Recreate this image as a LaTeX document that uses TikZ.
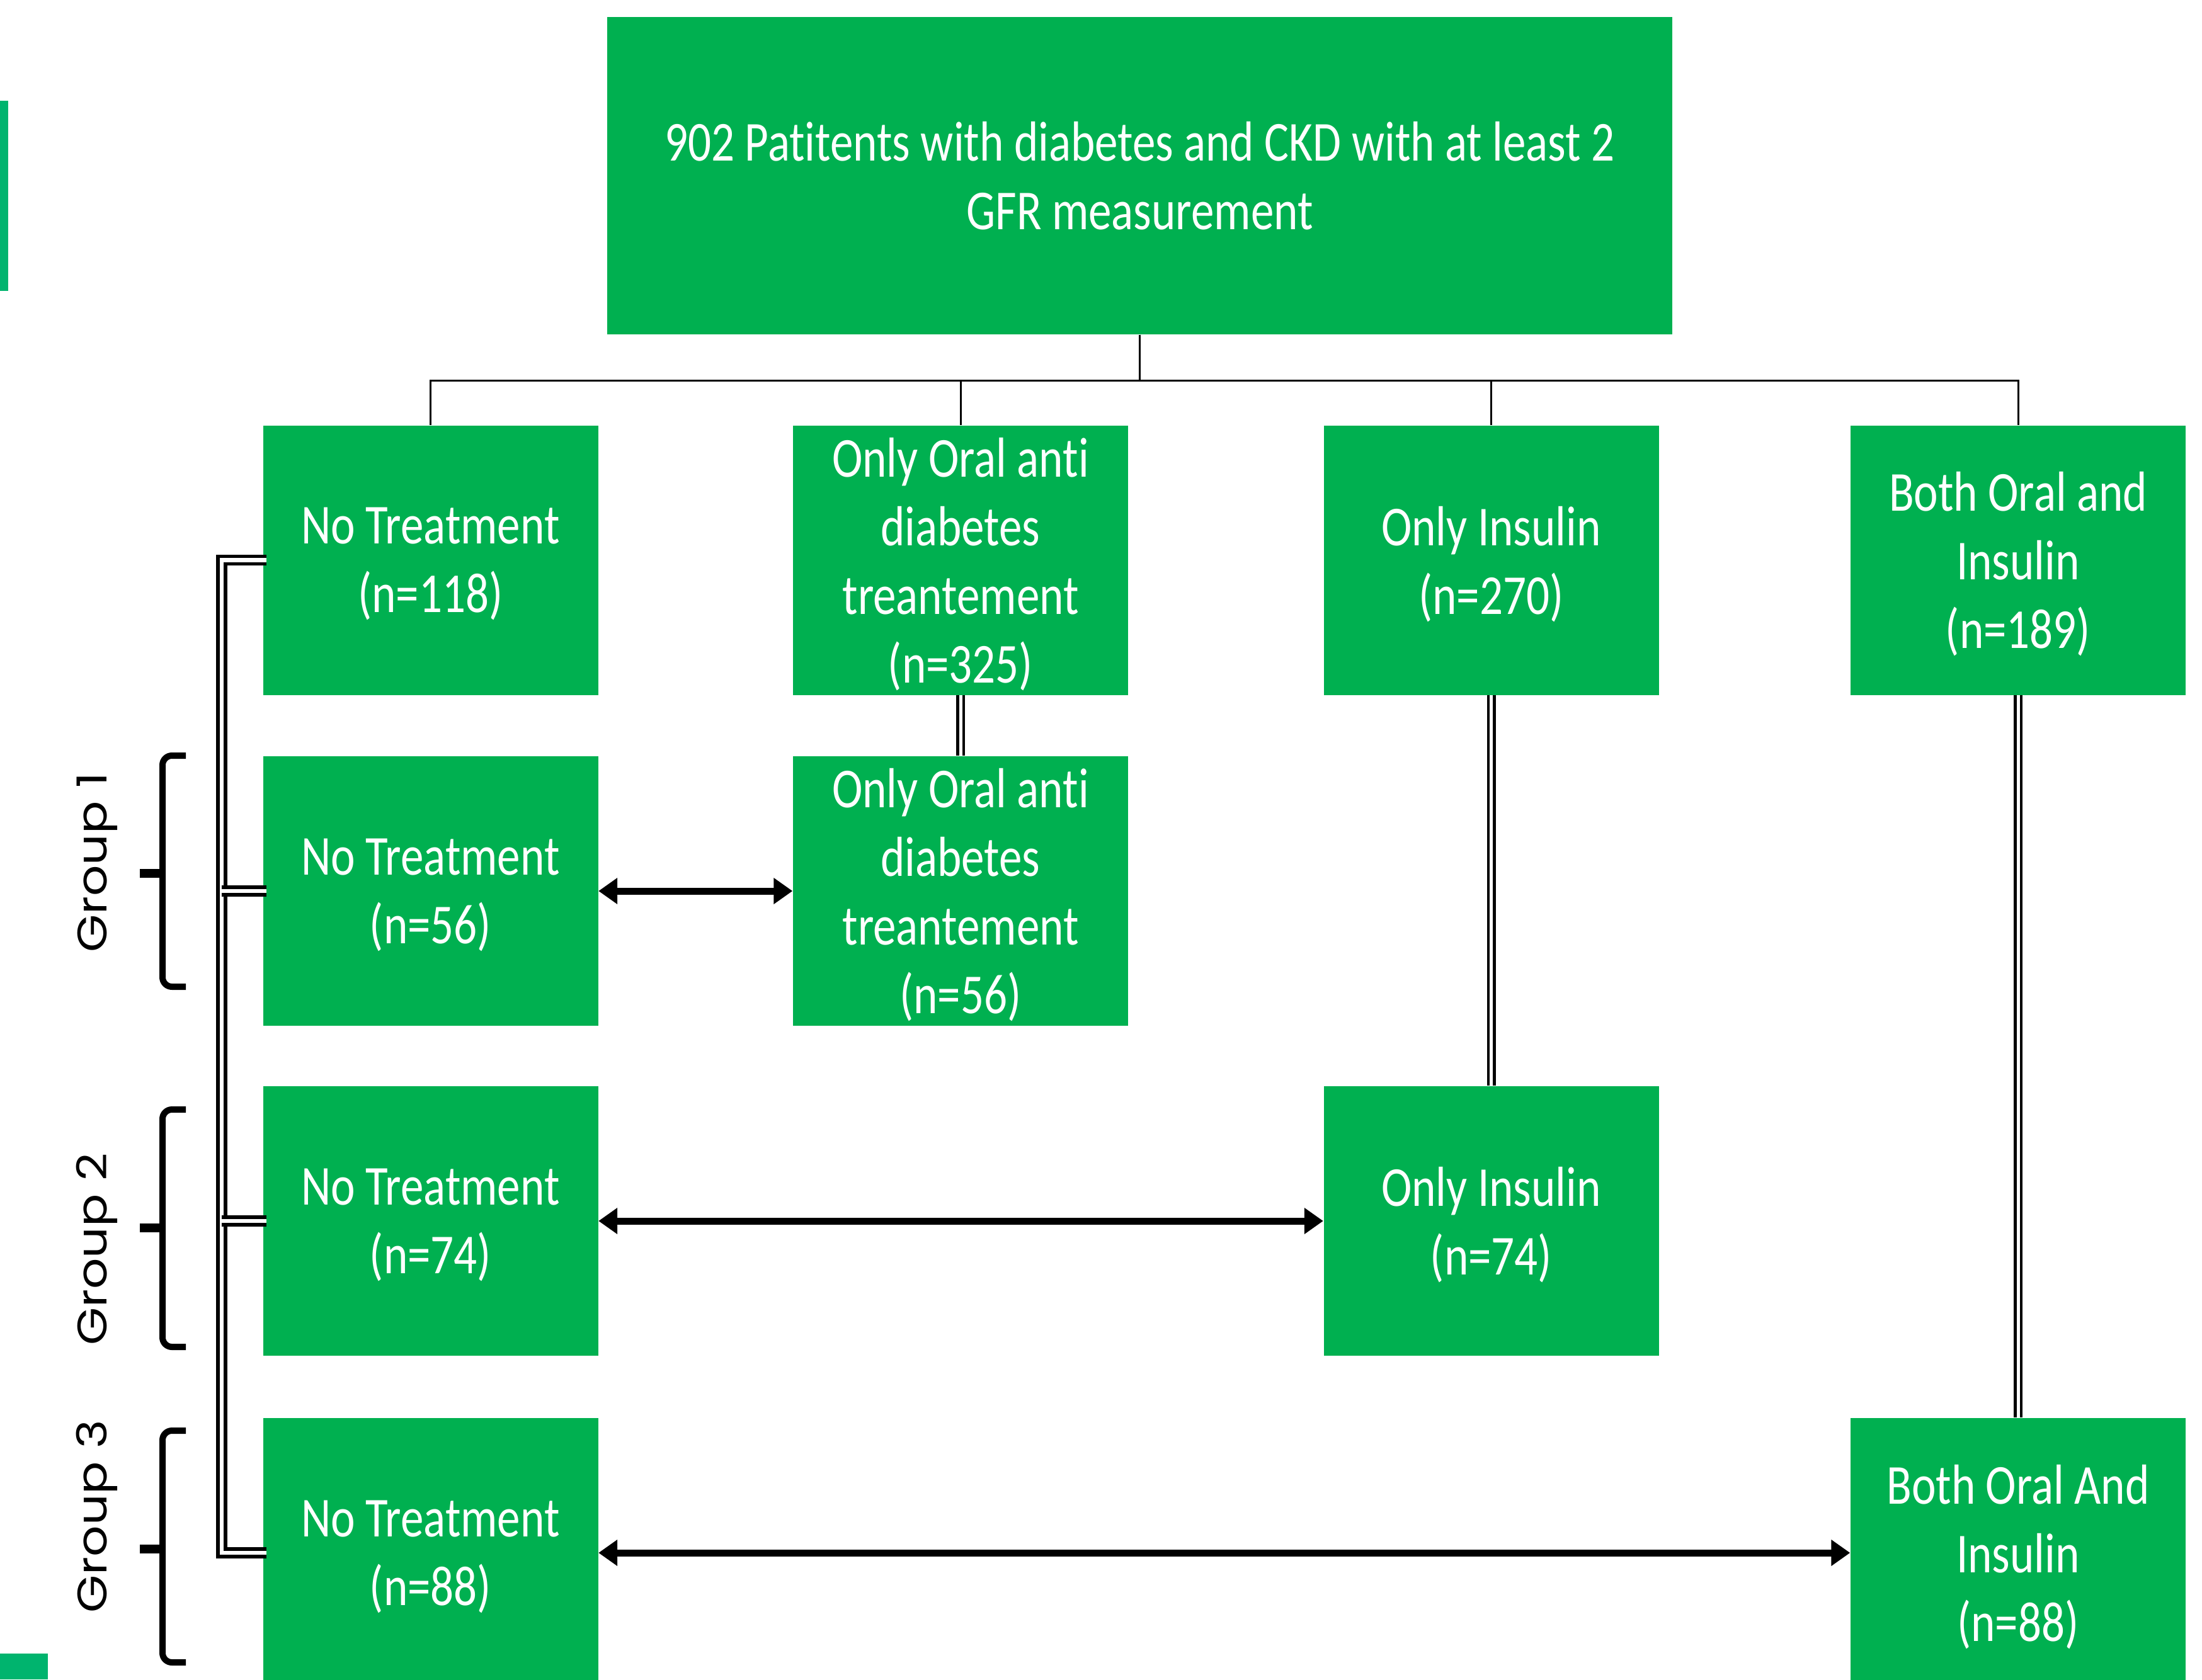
\documentclass[tikz,border=0pt]{standalone}
\usepackage{fontspec}
\setmainfont{Carlito}[FakeStretch=0.815, Ligatures={NoCommon}]
\newfontfamily\grpfont{Poppins}
\usetikzlibrary{arrows.meta}
\definecolor{boxgreen}{HTML}{00B050}
\definecolor{bargreen}{HTML}{00B46E}
\tikzset{
  box/.style={rectangle, fill=boxgreen, draw=none, text=white, align=center,
    inner sep=0pt, minimum width=5.32cm, minimum height=4.28cm, text depth=0pt,
    font=\fontsize{25.5}{31}\selectfont},
  tree/.style={draw=black, line width=0.03cm},
  dbl/.style={draw=black, line width=0.055cm, double=white, double distance=0.065cm, line join=miter},
  dblthin/.style={draw=black, line width=0.045cm, double=white, double distance=0.05cm},
  biarrow/.style={draw=black, line width=0.11cm,
    {Triangle[length=0.3cm,width=0.4cm]}-{Triangle[length=0.3cm,width=0.4cm]}},
  grp/.style={rotate=90, font=\grpfont\fontsize{22}{26}\selectfont, text=black, inner sep=0pt},
  bracestyle/.style={draw=black, line width=0.1cm, rounded corners=0.15cm},
}
\newcommand\grpbrace[3]{%
  \draw[bracestyle] (2.95,#1) -- (2.58,#1) -- (2.58,#3) -- (2.95,#3);
  \draw[draw=black, line width=0.14cm] (2.22,#2) -- (2.58,#2);
}
\begin{document}
\begin{tikzpicture}
\path[use as bounding box] (0,0) rectangle (34.96,-26.67);
\clip (0,0) rectangle (34.96,-26.67);

% side bars
\fill[bargreen] (0,-1.60) rectangle (0.13,-4.62);
\fill[bargreen] (0,-26.26) rectangle (0.76,-26.67);

% boxes
\node[box, minimum width=16.91cm, minimum height=5.04cm] (top) at (18.095,-2.79)
  {902 Patitents with diabetes and CKD with at least 2\\GFR measurement};

\node[box] (a1) at (6.835,-8.895) {No Treatment\\(n=118)};
\node[box] (a2) at (15.25,-8.895) {Only Oral anti\\diabetes\\treantement\\(n=325)};
\node[box] (a3) at (23.675,-8.895) {Only Insulin\\(n=270)};
\node[box] (a4) at (32.04,-8.895) {Both Oral and\\Insulin\\(n=189)};

\node[box] (b1) at (6.835,-14.15) {No Treatment\\(n=56)};
\node[box] (b2) at (15.25,-14.15) {Only Oral anti\\diabetes\\treantement\\(n=56)};

\node[box] (c1) at (6.835,-19.39) {No Treatment\\(n=74)};
\node[box] (c3) at (23.675,-19.39) {Only Insulin\\(n=74)};

\node[box] (d1) at (6.835,-24.66) {No Treatment\\(n=88)};
\node[box] (d4) at (32.04,-24.66) {Both Oral And\\Insulin\\(n=88)};

% tree connectors
\foreach \c in {a1,a2,a3,a4}
  \draw[tree] (top.south) -- ++(0,-0.73) -| (\c.north);

% left double connector
\coordinate (lx) at (3.52,0);
\draw[dbl] ([xshift=0.06cm]a1.west) -- (a1.west -| lx) -- (d1.west -| lx) -- ([xshift=0.06cm]d1.west);
\draw[dbl] (b1.west -| lx) -- ([xshift=0.06cm]b1.west);
\draw[dbl] (c1.west -| lx) -- ([xshift=0.06cm]c1.west);

% column double connectors
\draw[dblthin] (a2.south) -- (b2.north);
\draw[dblthin] (a3.south) -- (c3.north);
\draw[dblthin] (a4.south) -- (d4.north);

% arrows
\draw[biarrow] (b1.east) -- (b2.west);
\draw[biarrow] (c1.east) -- (c3.west);
\draw[biarrow] (d1.east) -- (d4.west);

% groups
\grpbrace{-12.00}{-13.87}{-15.67}
\grpbrace{-17.62}{-19.50}{-21.39}
\grpbrace{-22.72}{-24.60}{-26.40}
\node[grp] (g1) at (1.54,-13.70) {\scalebox{1}[0.85]{Group 1}};
\node[grp] (g2) at (1.54,-19.84) {\scalebox{1}[0.85]{Group 2}};
\node[grp] (g3) at (1.54,-24.08) {\scalebox{1}[0.85]{Group 3}};
\end{tikzpicture}
\end{document}
